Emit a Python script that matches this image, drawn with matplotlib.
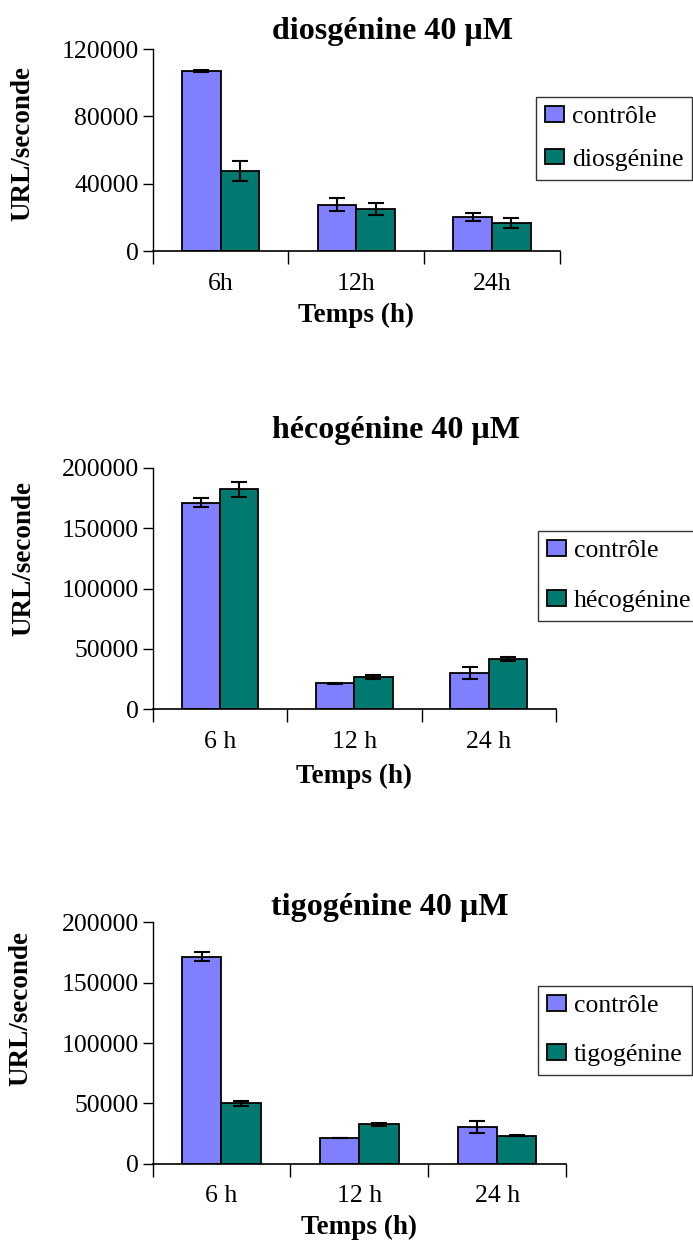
import numpy as np
import matplotlib.pyplot as plt

plt.rcParams['font.family'] = ['Liberation Serif', 'DejaVu Serif']

# data
temps_d = ['6h', '12h', '24h']
temps = ['6 h', '12 h', '24 h']

ctrl_dios = [107000, 27500, 20200]
ctrl_dios_err = [600, 3700, 2400]
dios = [47500, 25000, 16800]
dios_err = [5700, 3700, 3100]

ctrl_heco = [171000, 21500, 30300]
ctrl_heco_err = [3600, 400, 5000]
heco = [182000, 27000, 41400]
heco_err = [6300, 1800, 1600]

ctrl_tigo = [171600, 21300, 30700]
ctrl_tigo_err = [3600, 300, 5000]
tigo = [50000, 32600, 23200]
tigo_err = [2000, 1300, 400]

W, H = 693, 1241
fig = plt.figure(figsize=(W / 100, H / 100), dpi=100)

c_ctrl = '#8080ff'
c_trt = '#007a70'
bw = 0.285


def px_axes(left, right, top, bottom):
    return [left / W, 1 - bottom / H, (right - left) / W, (bottom - top) / H]


def panel(rect, cats, ctrl, ctrl_err, trt, trt_err, name, ymax, ystep,
          title_xy, leg_xy, ylab_y, xlab_y, lspace):
    ax = fig.add_axes(px_axes(*rect))
    x = np.arange(len(cats))
    ekw = dict(elinewidth=1.5, capsize=6, capthick=1.5, ecolor='black')
    ax.bar(x - bw / 2, ctrl, bw, yerr=ctrl_err, color=c_ctrl, edgecolor='black',
           linewidth=1.3, label='contrôle', error_kw=ekw, zorder=2)
    ax.bar(x + bw / 2, trt, bw, yerr=trt_err, color=c_trt, edgecolor='black',
           linewidth=1.3, label=name, error_kw=ekw, zorder=2)
    ax.set_xlim(-0.5, len(cats) - 0.5)
    ax.set_ylim(0, ymax)
    ax.set_yticks(np.arange(0, ymax + 1, ystep))
    ax.tick_params(axis='y', labelsize=18.5, length=7, width=1, pad=3)
    ax.set_xticks(np.arange(len(cats) + 1) - 0.5)
    ax.set_xticklabels([])
    ax.set_xticks(x, minor=True)
    ax.set_xticklabels(cats, minor=True)
    ax.tick_params(axis='x', which='major', length=9, width=1)
    ax.tick_params(axis='x', which='minor', length=0, labelsize=18.5, pad=15.5)
    for s in ['top', 'right']:
        ax.spines[s].set_visible(False)
    ax.spines['left'].set_linewidth(1)
    ax.spines['bottom'].set_linewidth(1.2)
    ax.set_ylabel('URL/seconde', fontsize=19.5, fontweight='bold', va='center')
    ax.yaxis.set_label_coords(-0.318, ylab_y)
    ax.set_xlabel('Temps (h)', fontsize=19.5, fontweight='bold', va='center')
    ax.xaxis.set_label_coords(0.5, xlab_y)
    fig.text(title_xy[0] / W, 1 - title_xy[1] / H, f'{name} 40 µM',
             fontsize=23, fontweight='bold', ha='center', va='center')
    leg = ax.legend(loc='upper left', bbox_to_anchor=(leg_xy[0] / W, 1 - leg_xy[1] / H),
                    bbox_transform=fig.transFigure, fontsize=18.5, frameon=True,
                    fancybox=False, borderaxespad=0, borderpad=0.35,
                    handlelength=0.75, handleheight=0.55, handletextpad=0.3,
                    labelspacing=lspace)
    leg.get_frame().set_edgecolor('black')
    leg.get_frame().set_linewidth(1)
    return ax


panel((152.6, 560, 49, 251), temps_d, ctrl_dios, ctrl_dios_err, dios, dios_err,
      'diosgénine', 120000, 40000, (392, 32), (536, 97), 0.53, -0.317, 0.8)
panel((152.6, 556, 467.7, 709.3), temps, ctrl_heco, ctrl_heco_err, heco, heco_err,
      'hécogénine', 200000, 50000, (396, 430), (538, 531), 0.626, -0.279, 1.1)
panel((152.6, 566, 922.3, 1163.7), temps, ctrl_tigo, ctrl_tigo_err, tigo, tigo_err,
      'tigogénine', 200000, 50000, (390, 907), (538, 986), 0.641, -0.266, 1.05)

fig.savefig('out.png', dpi=100)
